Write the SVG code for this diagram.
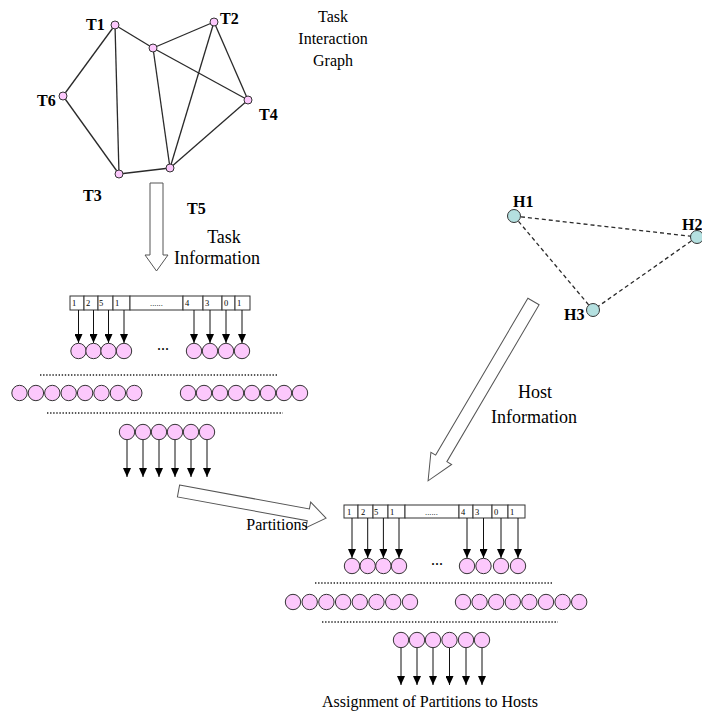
<svg xmlns="http://www.w3.org/2000/svg" width="702" height="723" viewBox="0 0 702 723">
  <style>
    .edge { stroke: #2a2a2a; stroke-width: 1.3; fill: none; }
    .hedge { stroke: #2a2a2a; stroke-width: 1.3; fill: none; stroke-dasharray: 4 3; }
    .task { fill: #fcc8fc; stroke: #333; stroke-width: 1; }
    .host { fill: #b4e0e0; stroke: #333; stroke-width: 1; }
    .gene { fill: #fcc8fc; stroke: #333; stroke-width: 1; }
    .lbl { font-family: "Liberation Serif", serif; font-weight: bold; font-size: 16px; fill: #000; }
    .txt { font-family: "Liberation Serif", serif; font-size: 16px; fill: #000; }
    .info { font-family: "Liberation Serif", serif; font-size: 18px; fill: #000; }
    .cell { fill: #fff; stroke: #333; stroke-width: 1; }
    .dig { font-family: "Liberation Serif", serif; font-size: 8.5px; fill: #000; }
    .link { stroke: #111; stroke-width: 1; marker-end: url(#tri); }
    .dots { stroke: #222; stroke-width: 1.4; stroke-dasharray: 1.4 1.7; }
    .big { fill: #fff; stroke: #555; stroke-width: 1; }
  </style>
  <defs>
    <marker id="tri" markerUnits="userSpaceOnUse" markerWidth="9" markerHeight="8" viewBox="0 0 9 8" refX="9" refY="4" orient="auto">
      <path d="M0,0 L9,4 L0,8 Z" fill="#000"/>
    </marker>
  </defs>

  <!-- task interaction graph: edges -->
  <g id="task-edges">
    <line class="edge" x1="115" y1="25" x2="63" y2="96"/>
    <line class="edge" x1="115" y1="25" x2="119" y2="174"/>
    <line class="edge" x1="115" y1="25" x2="153" y2="48"/>
    <line class="edge" x1="153" y1="48" x2="214" y2="22"/>
    <line class="edge" x1="153" y1="48" x2="248" y2="100"/>
    <line class="edge" x1="153" y1="48" x2="170" y2="168"/>
    <line class="edge" x1="214" y1="22" x2="170" y2="168"/>
    <line class="edge" x1="214" y1="22" x2="248" y2="100"/>
    <line class="edge" x1="248" y1="100" x2="170" y2="168"/>
    <line class="edge" x1="63" y1="96" x2="119" y2="174"/>
    <line class="edge" x1="119" y1="174" x2="170" y2="168"/>
  </g>
  <g id="T1"><circle class="task" cx="115" cy="25" r="4"/><text class="lbl" x="86" y="30">T1</text></g>
  <g id="T0"><circle class="task" cx="153" cy="48" r="4"/></g>
  <g id="T2"><circle class="task" cx="214" cy="22" r="4"/><text class="lbl" x="220" y="24">T2</text></g>
  <g id="T6"><circle class="task" cx="63" cy="96" r="4"/><text class="lbl" x="37" y="106">T6</text></g>
  <g id="T4"><circle class="task" cx="248" cy="100" r="4"/><text class="lbl" x="259" y="120">T4</text></g>
  <g id="T3"><circle class="task" cx="119" cy="174" r="4"/><text class="lbl" x="83" y="201">T3</text></g>
  <g id="T5"><circle class="task" cx="170" cy="168" r="4"/><text class="lbl" x="187" y="214">T5</text></g>
  <g id="graph-title">
    <text class="txt" x="333" y="22" text-anchor="middle">Task</text>
    <text class="txt" x="333" y="44" text-anchor="middle">Interaction</text>
    <text class="txt" x="333" y="66" text-anchor="middle">Graph</text>
  </g>

  <!-- host graph -->
  <g id="host-edges">
    <line class="hedge" x1="514" y1="216" x2="697" y2="237"/>
    <line class="hedge" x1="514" y1="216" x2="593" y2="310"/>
    <line class="hedge" x1="697" y1="237" x2="593" y2="310"/>
  </g>
  <g id="H1"><circle class="host" cx="514" cy="216" r="6.5"/><text class="lbl" x="513" y="207">H1</text></g>
  <g id="H2"><circle class="host" cx="697" cy="237" r="6.5"/><text class="lbl" x="682" y="230">H2</text></g>
  <g id="H3"><circle class="host" cx="593" cy="310" r="6.5"/><text class="lbl" x="564" y="320">H3</text></g>

  <!-- hollow flow arrows -->
  <g id="task-info">
    <polygon class="big" points="150,183 163,183 163,255 168,255 156.5,271 145,255 150,255"/>
    <text class="info" x="224" y="243" text-anchor="middle">Task</text>
    <text class="info" x="217" y="264" text-anchor="middle">Information</text>
  </g>
  <g id="host-info">
    <polygon class="big" transform="translate(533.5,301.5) rotate(120.45)" points="0,-6.5 182,-6.5 182,-12 208,0 182,12 182,6.5 0,6.5"/>
    <text class="info" x="535" y="398" text-anchor="middle">Host</text>
    <text class="info" x="534" y="423" text-anchor="middle">Information</text>
  </g>
  <g id="partitions">
    <polygon class="big" transform="translate(178.5,491) rotate(10.4)" points="0,-6 132,-6 132,-13 150,0 132,13 132,6 0,6"/>
    <text class="txt" x="277" y="530" text-anchor="middle">Partitions</text>
  </g>

  <!-- partitioning stage -->
  <g id="chromosome-a">
    <rect class="cell" x="70" y="296" width="14" height="14"/>
    <rect class="cell" x="84" y="296" width="14" height="14"/>
    <rect class="cell" x="98" y="296" width="15" height="14"/>
    <rect class="cell" x="113" y="296" width="17" height="14"/>
    <rect class="cell" x="130" y="296" width="53" height="14"/>
    <rect class="cell" x="183" y="296" width="20" height="14"/>
    <rect class="cell" x="203" y="296" width="19" height="14"/>
    <rect class="cell" x="222" y="296" width="13" height="14"/>
    <rect class="cell" x="235" y="296" width="15" height="14"/>
    <text class="dig" x="72" y="306">1</text>
    <text class="dig" x="86" y="306">2</text>
    <text class="dig" x="99" y="306">5</text>
    <text class="dig" x="115" y="306">1</text>
    <text class="dig" x="150" y="306">......</text>
    <text class="dig" x="185" y="306">4</text>
    <text class="dig" x="205" y="306">3</text>
    <text class="dig" x="224" y="306">0</text>
    <text class="dig" x="237" y="306">1</text>
  </g>
  <g id="links-a">
    <line class="link" x1="78.5" y1="310" x2="78.5" y2="343"/>
    <line class="link" x1="93.5" y1="310" x2="93.5" y2="343"/>
    <line class="link" x1="108.5" y1="310" x2="108.5" y2="343"/>
    <line class="link" x1="124" y1="310" x2="124" y2="343"/>
    <line class="link" x1="194" y1="310" x2="194" y2="343"/>
    <line class="link" x1="210" y1="310" x2="210" y2="343"/>
    <line class="link" x1="226" y1="310" x2="226" y2="343"/>
    <line class="link" x1="242" y1="310" x2="242" y2="343"/>
  </g>
  <g id="genes-a1">
    <circle class="gene" cx="78.5" cy="351" r="7.7"/>
    <circle class="gene" cx="93.5" cy="351" r="7.7"/>
    <circle class="gene" cx="108.5" cy="351" r="7.7"/>
    <circle class="gene" cx="124" cy="351" r="7.7"/>
    <text class="txt" x="163" y="350" text-anchor="middle">...</text>
    <circle class="gene" cx="194" cy="351" r="7.7"/>
    <circle class="gene" cx="210" cy="351" r="7.7"/>
    <circle class="gene" cx="226" cy="351" r="7.7"/>
    <circle class="gene" cx="242" cy="351" r="7.7"/>
  </g>
  <line class="dots" x1="40" y1="375" x2="277" y2="375"/>
  <g id="genes-a2">
    <circle class="gene" cx="19.5" cy="393" r="7.7"/>
    <circle class="gene" cx="35.9" cy="393" r="7.7"/>
    <circle class="gene" cx="52.3" cy="393" r="7.7"/>
    <circle class="gene" cx="68.7" cy="393" r="7.7"/>
    <circle class="gene" cx="85.1" cy="393" r="7.7"/>
    <circle class="gene" cx="101.5" cy="393" r="7.7"/>
    <circle class="gene" cx="117.9" cy="393" r="7.7"/>
    <circle class="gene" cx="134.3" cy="393" r="7.7"/>
    <circle class="gene" cx="188" cy="393" r="7.7"/>
    <circle class="gene" cx="204" cy="393" r="7.7"/>
    <circle class="gene" cx="220" cy="393" r="7.7"/>
    <circle class="gene" cx="236" cy="393" r="7.7"/>
    <circle class="gene" cx="252" cy="393" r="7.7"/>
    <circle class="gene" cx="268" cy="393" r="7.7"/>
    <circle class="gene" cx="284" cy="393" r="7.7"/>
    <circle class="gene" cx="300" cy="393" r="7.7"/>
  </g>
  <line class="dots" x1="47" y1="413" x2="283" y2="413"/>
  <g id="links-a3">
    <line class="link" x1="127" y1="432" x2="127" y2="477"/>
    <line class="link" x1="143" y1="432" x2="143" y2="477"/>
    <line class="link" x1="159" y1="432" x2="159" y2="477"/>
    <line class="link" x1="175" y1="432" x2="175" y2="477"/>
    <line class="link" x1="191" y1="432" x2="191" y2="477"/>
    <line class="link" x1="207" y1="432" x2="207" y2="477"/>
  </g>
  <g id="genes-a3">
    <circle class="gene" cx="127" cy="432" r="7.7"/>
    <circle class="gene" cx="143" cy="432" r="7.7"/>
    <circle class="gene" cx="159" cy="432" r="7.7"/>
    <circle class="gene" cx="175" cy="432" r="7.7"/>
    <circle class="gene" cx="191" cy="432" r="7.7"/>
    <circle class="gene" cx="207" cy="432" r="7.7"/>
  </g>

  <!-- assignment stage -->
  <g id="chromosome-b">
    <rect class="cell" x="344" y="505" width="14" height="13"/>
    <rect class="cell" x="358" y="505" width="15" height="13"/>
    <rect class="cell" x="373" y="505" width="15" height="13"/>
    <rect class="cell" x="388" y="505" width="17" height="13"/>
    <rect class="cell" x="405" y="505" width="54" height="13"/>
    <rect class="cell" x="459" y="505" width="14" height="13"/>
    <rect class="cell" x="473" y="505" width="19" height="13"/>
    <rect class="cell" x="492" y="505" width="16" height="13"/>
    <rect class="cell" x="508" y="505" width="17" height="13"/>
    <text class="dig" x="347" y="515">1</text>
    <text class="dig" x="361" y="515">2</text>
    <text class="dig" x="374" y="515">5</text>
    <text class="dig" x="390" y="515">1</text>
    <text class="dig" x="425" y="515">......</text>
    <text class="dig" x="461" y="515">4</text>
    <text class="dig" x="475" y="515">3</text>
    <text class="dig" x="494" y="515">0</text>
    <text class="dig" x="510" y="515">1</text>
  </g>
  <g id="links-b">
    <line class="link" x1="352" y1="518" x2="352" y2="558"/>
    <line class="link" x1="367.7" y1="518" x2="367.7" y2="558"/>
    <line class="link" x1="383.4" y1="518" x2="383.4" y2="558"/>
    <line class="link" x1="399" y1="518" x2="399" y2="558"/>
    <line class="link" x1="467" y1="518" x2="467" y2="558"/>
    <line class="link" x1="483.5" y1="518" x2="483.5" y2="558"/>
    <line class="link" x1="501" y1="518" x2="501" y2="558"/>
    <line class="link" x1="518" y1="518" x2="518" y2="558"/>
  </g>
  <g id="genes-b1">
    <circle class="gene" cx="352" cy="566" r="7.7"/>
    <circle class="gene" cx="367.7" cy="566" r="7.7"/>
    <circle class="gene" cx="383.4" cy="566" r="7.7"/>
    <circle class="gene" cx="399" cy="566" r="7.7"/>
    <text class="txt" x="437" y="565" text-anchor="middle">...</text>
    <circle class="gene" cx="467" cy="566" r="7.7"/>
    <circle class="gene" cx="483.5" cy="566" r="7.7"/>
    <circle class="gene" cx="501" cy="566" r="7.7"/>
    <circle class="gene" cx="518" cy="566" r="7.7"/>
  </g>
  <line class="dots" x1="315" y1="583" x2="552" y2="583"/>
  <g id="genes-b2">
    <circle class="gene" cx="293" cy="602" r="7.7"/>
    <circle class="gene" cx="309.7" cy="602" r="7.7"/>
    <circle class="gene" cx="326.4" cy="602" r="7.7"/>
    <circle class="gene" cx="343.1" cy="602" r="7.7"/>
    <circle class="gene" cx="359.8" cy="602" r="7.7"/>
    <circle class="gene" cx="376.5" cy="602" r="7.7"/>
    <circle class="gene" cx="393.2" cy="602" r="7.7"/>
    <circle class="gene" cx="410" cy="602" r="7.7"/>
    <circle class="gene" cx="463" cy="602" r="7.7"/>
    <circle class="gene" cx="479.6" cy="602" r="7.7"/>
    <circle class="gene" cx="496.2" cy="602" r="7.7"/>
    <circle class="gene" cx="512.8" cy="602" r="7.7"/>
    <circle class="gene" cx="529.4" cy="602" r="7.7"/>
    <circle class="gene" cx="546" cy="602" r="7.7"/>
    <circle class="gene" cx="562.6" cy="602" r="7.7"/>
    <circle class="gene" cx="579.2" cy="602" r="7.7"/>
  </g>
  <line class="dots" x1="322" y1="622" x2="558" y2="622"/>
  <g id="links-b3">
    <line class="link" x1="401" y1="640" x2="401" y2="685"/>
    <line class="link" x1="417" y1="640" x2="417" y2="685"/>
    <line class="link" x1="433" y1="640" x2="433" y2="685"/>
    <line class="link" x1="449.5" y1="640" x2="449.5" y2="685"/>
    <line class="link" x1="466" y1="640" x2="466" y2="685"/>
    <line class="link" x1="482" y1="640" x2="482" y2="685"/>
  </g>
  <g id="genes-b3">
    <circle class="gene" cx="401" cy="640" r="7.7"/>
    <circle class="gene" cx="417" cy="640" r="7.7"/>
    <circle class="gene" cx="433" cy="640" r="7.7"/>
    <circle class="gene" cx="449.5" cy="640" r="7.7"/>
    <circle class="gene" cx="466" cy="640" r="7.7"/>
    <circle class="gene" cx="482" cy="640" r="7.7"/>
  </g>
  <text id="result" class="txt" x="430" y="707" text-anchor="middle">Assignment of Partitions to Hosts</text>
</svg>
